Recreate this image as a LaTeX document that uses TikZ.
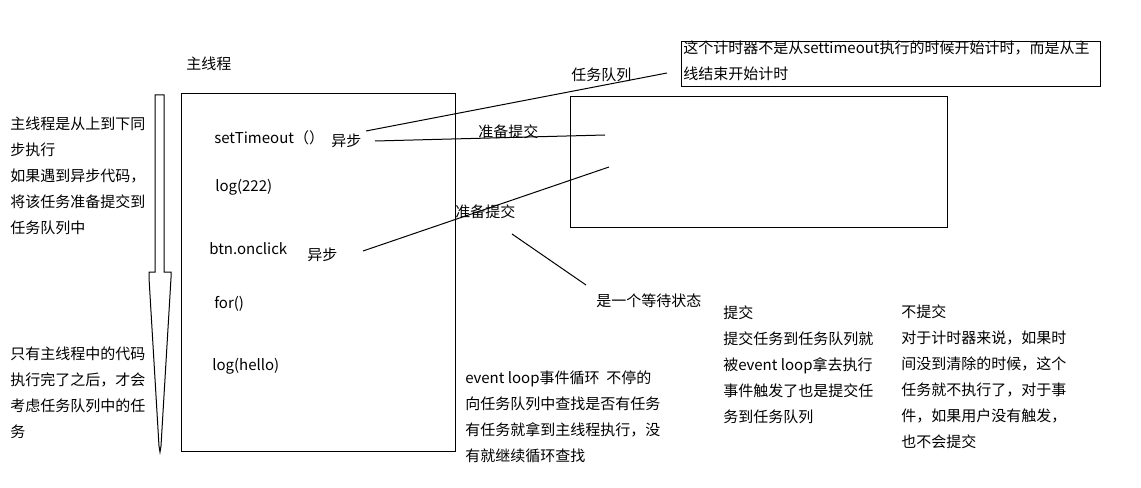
\documentclass[tikz,border=0pt]{standalone}
\usepackage{fontspec}
\setmainfont{Noto Sans CJK SC}
\usetikzlibrary{positioning}

\tikzset{
  lbl/.style={anchor=west, inner sep=0pt, font=\fontsize{11.25}{19.5}\selectfont},
  note/.style={anchor=north west, align=left, inner sep=0pt, font=\fontsize{11.25}{19.5}\selectfont},
  thinline/.style={line width=0.75pt}
}

\begin{document}
\begin{tikzpicture}[x=0.75pt,y=-0.75pt]

  % Canvas
  \useasboundingbox (0,0) rectangle (1141,488);

  % Main thread box and its arrow
  \draw[thinline] (181,94) rectangle (455,451);
  \draw[thinline] (155,95) -- (164,95) -- (164,272) -- (171,272) -- (171,278)
    -- (161,446) -- (160,452) -- (159,446) -- (149,278) -- (149,272)
    -- (155,272) -- cycle;
  \node[lbl] (title) at (186,64) {主线程};

  % Code lines in main thread
  \node[lbl] (settime) at (214,138) {setTimeout（）};
  \node[lbl] (async1) at (331,141) {异步};
  \node[lbl] (log1) at (215,187) {log(222)};
  \node[lbl] (click) at (209,249) {btn.onclick};
  \node[lbl] (async2) at (307,255) {异步};
  \node[lbl] (forloop) at (214,304) {for()};
  \node[lbl] (log2) at (212,366) {log(hello)};

  % Left notes
  \node[note] (sync) at (10,116.5) {主线程是从上到下同\\步执行\\如果遇到异步代码，\\将该任务准备提交到\\任务队列中};
  \node[note] (after) at (10,346.5) {只有主线程中的代码\\执行完了之后，才会\\考虑任务队列中的任\\务};

  % Task queue
  \draw[thinline] (570,97) rectangle (947,228);
  \node[lbl] (queue) at (571,75) {任务队列};

  % Timer note
  \draw[thinline] (681,42) rectangle (1100,87);
  \node[note] (timer) at (683,40.5) {这个计时器不是从settimeout执行的时候开始计时，而是从主\\线结束开始计时};

  % Connectors
  \coordinate (a1) at (366,131);
  \coordinate (a2) at (667,73);
  \coordinate (b1) at (375,141);
  \coordinate (b2) at (605,135);
  \coordinate (c1) at (363,251);
  \coordinate (c2) at (609,167);
  \coordinate (d1) at (512,234);
  \coordinate (d2) at (586,285);
  \draw[thinline] (a1) -- (a2);
  \draw[thinline] (b1) -- (b2);
  \draw[thinline] (c1) -- (c2);
  \draw[thinline] (d1) -- (d2);
  \node[lbl] (ready1) at (478,132) {准备提交};
  \node[lbl] (ready2) at (455,212) {准备提交};
  \node[lbl] (wait) at (596,301) {是一个等待状态};

  % Bottom notes
  \node[note] (loop) at (465,370.5) {event loop事件循环 \ 不停的\\向任务队列中查找是否有任务\\有任务就拿到主线程执行，没\\有就继续循环查找};
  \node[note] (submit) at (723,305.5) {提交\\提交任务到任务队列就\\被event loop拿去执行\\事件触发了也是提交任\\务到任务队列};
  \node[note] (nosubmit) at (901,304.5) {不提交\\对于计时器来说，如果时\\间没到清除的时候，这个\\任务就不执行了，对于事\\件，如果用户没有触发，\\也不会提交};

\end{tikzpicture}
\end{document}
